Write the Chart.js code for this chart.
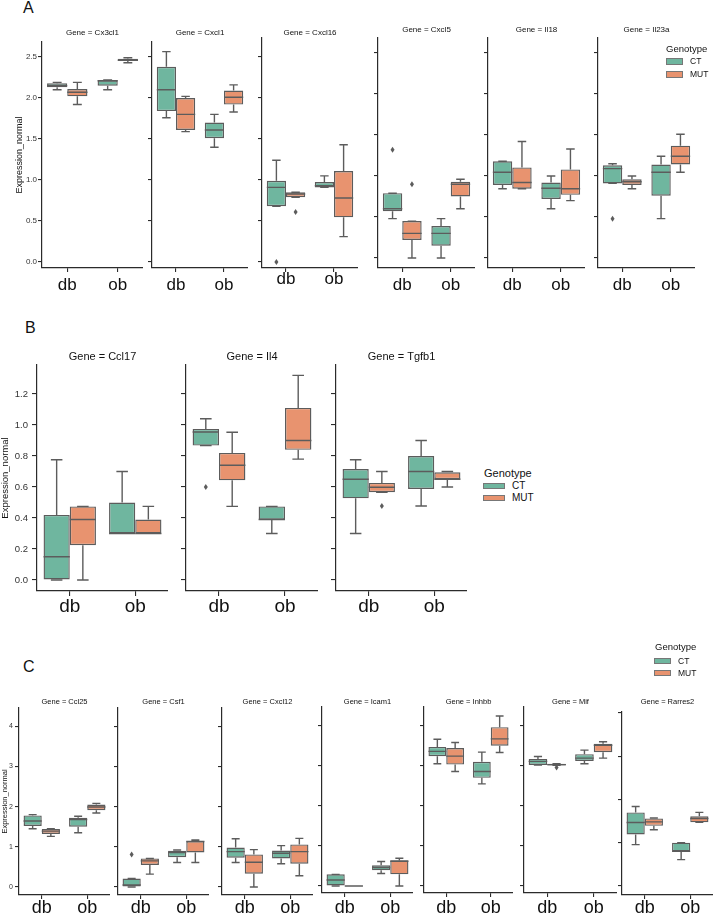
<!DOCTYPE html>
<html>
<head>
<meta charset="utf-8">
<script src="https://cdn.jsdelivr.net/npm/chart.js@4.4.1/dist/chart.umd.min.js"></script>
<style>
  body { margin: 0; background: #fff; width: 713px; height: 918px; position: relative; overflow: hidden;
         font-family: "Liberation Sans", Arial, sans-serif; color: #111; }
  canvas { position: absolute; }
  .letter { position: absolute; font-size: 16px; line-height: 1; }
  .leg { position: absolute; line-height: 1; white-space: nowrap; }
  .patch { position: absolute; box-sizing: border-box; border: 1px solid #777; }
</style>
</head>
<body>
<div class="letter" style="left:23px;top:0px">A</div>
<div class="letter" style="left:25px;top:320px">B</div>
<div class="letter" style="left:23px;top:659px">C</div>

<script>
const categories = ['db', 'ob'];
const genotypes = ['CT', 'MUT'];

// box stats per gene, [db, ob], each [low whisker, q1, median, q3, high whisker]
const genesA = ['Cx3cl1', 'Cxcl1', 'Cxcl16', 'Cxcl5', 'Il18', 'Il23a'];
const ticksA = [0, 0.5, 1, 1.5, 2, 2.5];
const ctA = [
  [[2.10, 2.13, 2.15, 2.18, 2.19], [2.10, 2.15, 2.21, 2.215, 2.22]],
  [[1.76, 1.84, 2.10, 2.38, 2.565], [1.40, 1.51, 1.61, 1.70, 1.80]],
  [[0.68, 0.68, 0.91, 0.99, 1.24], [0.91, 0.91, 0.93, 0.975, 1.05]],
  [[0.48, 0.57, 0.60, 0.79, 0.79], [0.0, 0.15, 0.30, 0.39, 0.48]],
  [[0.845, 0.89, 1.045, 1.18, 1.18], [0.60, 0.72, 0.85, 0.92, 1.00]],
  [[0.91, 0.91, 1.09, 1.13, 1.15], [0.48, 0.76, 1.045, 1.14, 1.24]]
];
const mutA = [
  [[1.92, 2.02, 2.07, 2.11, 2.19], [2.43, 2.45, 2.46, 2.48, 2.49]],
  [[1.59, 1.61, 1.80, 2.00, 2.02], [1.83, 1.92, 2.01, 2.09, 2.16]],
  [[0.79, 0.79, 0.83, 0.85, 0.85], [0.31, 0.545, 0.78, 1.11, 1.43]],
  [[0.0, 0.22, 0.30, 0.45, 0.45], [0.60, 0.75, 0.90, 0.93, 0.96]],
  [[0.845, 0.845, 0.92, 1.105, 1.42], [0.70, 0.77, 0.845, 1.08, 1.33]],
  [[0.845, 0.89, 0.93, 0.96, 1.00], [1.045, 1.14, 1.24, 1.37, 1.51]]
];
const ctOutA = [[[], []], [[], []], [[0.0], []], [[1.32], []], [[], []], [[0.48], []]];
const mutOutA = [[[], []], [[], []], [[0.61], []], [[0.90], []], [[], []], [[], []]];

const genesB = ['Ccl17', 'Il4', 'Tgfb1'];
const ticksB = [0, 0.2, 0.4, 0.6, 0.8, 1.0, 1.2];
const ctB = [
  [[0.0, 0.0, 0.15, 0.42, 0.776], [0.30, 0.30, 0.30, 0.50, 0.70]],
  [[0.867, 0.867, 0.955, 0.975, 1.04], [0.30, 0.39, 0.39, 0.475, 0.475]],
  [[0.30, 0.527, 0.65, 0.716, 0.776], [0.477, 0.587, 0.70, 0.80, 0.90]]
];
const mutB = [
  [[0.0, 0.225, 0.39, 0.475, 0.475], [0.30, 0.30, 0.30, 0.39, 0.475]],
  [[0.475, 0.643, 0.74, 0.82, 0.953], [0.78, 0.84, 0.90, 1.11, 1.32]],
  [[0.566, 0.566, 0.598, 0.626, 0.70], [0.60, 0.65, 0.65, 0.695, 0.70]]
];
const ctOutB = [[[], []], [[0.60], []], [[], []]];
const mutOutB = [[[], []], [[], []], [[0.477], []]];

const genesC = ['Ccl25', 'Csf1', 'Cxcl12', 'Icam1', 'Inhbb', 'Mif', 'Rarres2'];
const ticksC = [0, 1, 2, 3, 4];
const ctC = [
  [[1.45, 1.52, 1.64, 1.78, 1.80], [1.35, 1.50, 1.68, 1.72, 1.76]],
  [[0.0, 0.0, 0.05, 0.21, 0.21], [0.61, 0.74, 0.86, 0.90, 0.92]],
  [[0.61, 0.73, 0.88, 0.98, 1.20], [0.58, 0.71, 0.84, 0.905, 1.03]],
  [[0.0, 0.0, 0.15, 0.29, 0.29], [0.31, 0.39, 0.46, 0.515, 0.61]],
  [[3.04, 3.23, 3.35, 3.46, 3.65], [2.54, 2.69, 2.85, 3.09, 3.33]],
  [[3.01, 3.01, 3.10, 3.16, 3.22], [3.04, 3.11, 3.18, 3.28, 3.38]],
  [[0.955, 1.19, 1.465, 1.70, 1.835], [0.61, 0.80, 0.80, 1.00, 1.00]]
];
const mutC = [
  [[1.26, 1.32, 1.39, 1.44, 1.45], [1.84, 1.91, 1.99, 2.05, 2.08]],
  [[0.32, 0.55, 0.65, 0.71, 0.71], [0.61, 0.86, 1.13, 1.14, 1.17]],
  [[0.0, 0.33, 0.615, 0.81, 0.93], [0.28, 0.58, 0.88, 1.06, 1.21]],
  [[0, 0, 0, 0, 0], [0.0, 0.29, 0.615, 0.64, 0.69]],
  [[2.85, 3.02, 3.23, 3.43, 3.57], [3.32, 3.49, 3.66, 3.95, 4.23]],
  [[3.00, 3.00, 3.02, 3.04, 3.04], [3.18, 3.33, 3.50, 3.54, 3.59]],
  [[1.30, 1.39, 1.48, 1.56, 1.57], [1.47, 1.47, 1.56, 1.61, 1.70]]
];
const ctOutC = [[[], []], [[0.81], []], [[], []], [[], []], [[], []], [[], []], [[], []]];
const mutOutC = [[[], []], [[], []], [[], []], [[], []], [[], []], [[2.95], []], [[], []]];

const CT_COLOR = '#6fb69f';
const MUT_COLOR = '#e8936f';
const EDGE = '#5c5c5c';
const AXIS = '#2b2b2b';
const FONT = '"Liberation Sans", Arial, sans-serif';

// facet placement on the page (axis left/right, axis top, x-axis line, pixel of 0, px per unit)
const layoutA = [
  { left: 42, right: 143, top: 42, bottom: 268, zero: 262, ppu: 82, titleY: 33, xPad: 3 },
  { left: 152, right: 248, top: 42, bottom: 268, zero: 262, ppu: 82, titleY: 33, xPad: 3 },
  { left: 262, right: 358, top: 38, bottom: 268, zero: 262, ppu: 82, titleY: 33, xPad: -3 },
  { left: 378, right: 475, top: 38, bottom: 268, zero: 258, ppu: 82, titleY: 30, xPad: 3 },
  { left: 488, right: 585, top: 38, bottom: 268, zero: 258, ppu: 82, titleY: 30, xPad: 3 },
  { left: 598, right: 695, top: 38, bottom: 268, zero: 258, ppu: 82, titleY: 30, xPad: 3 }
];
const layoutB = [
  { left: 37, right: 168, top: 365, bottom: 591, zero: 580, ppu: 155, titleY: 357, xPad: -1 },
  { left: 186, right: 318, top: 365, bottom: 591, zero: 580, ppu: 155, titleY: 357, xPad: -1 },
  { left: 336, right: 467, top: 365, bottom: 591, zero: 580, ppu: 155, titleY: 357, xPad: -1 }
];
const layoutC = [
  { left: 19, right: 110, top: 708, bottom: 895, zero: 887, ppu: 40.2, titleY: 702, xPad: -2 },
  { left: 118, right: 209, top: 708, bottom: 895, zero: 887, ppu: 40.2, titleY: 702, xPad: -2 },
  { left: 222, right: 313, top: 708, bottom: 895, zero: 887, ppu: 40.2, titleY: 702, xPad: -2 },
  { left: 322, right: 413, top: 707, bottom: 893, zero: 886, ppu: 40.2, titleY: 702, xPad: 0 },
  { left: 424, right: 513, top: 707, bottom: 893, zero: 886, ppu: 40.2, titleY: 702, xPad: 0 },
  { left: 524, right: 617, top: 707, bottom: 893, zero: 886, ppu: 40.2, titleY: 702, xPad: 0 },
  { left: 622, right: 713, top: 712, bottom: 895, zero: 886, ppu: 43.3, titleY: 702, xPad: -2 }
];

const styleA = { titleSize: 8, yTick: 8, yTitle: 9, yTitlePad: 14, tickLen: 4, yPad: 1, xFont: 17, fmt: v => v.toFixed(1) };
const styleB = { titleSize: 11, yTick: 9.5, yTitle: 9.5, yTitlePad: 0, tickLen: 5, yPad: 4, xFont: 19, fmt: v => v.toFixed(1) };
const styleC = { titleSize: 7.5, yTick: 7, yTitle: 7.5, yTitlePad: 0, tickLen: 4, yPad: 2, xFont: 18, fmt: v => String(v) };

const boxPlugin = {
  id: 'boxes',
  afterDatasetsDraw(chart) {
    const { ctx } = chart;
    const y = chart.scales.y;
    const py = v => y.getPixelForValue(v);
    ctx.save();
    ctx.strokeStyle = EDGE;
    ctx.fillStyle = EDGE;
    ctx.lineWidth = 1.4;
    chart.data.datasets.forEach((ds, i) => {
      chart.getDatasetMeta(i).data.forEach((bar, j) => {
        const s = ds.stats[j];
        const x = bar.x, hw = bar.width / 2, cw = bar.width * 0.22;
        ctx.beginPath();
        ctx.moveTo(x, py(s[1])); ctx.lineTo(x, py(s[0]));
        ctx.moveTo(x - cw, py(s[0])); ctx.lineTo(x + cw, py(s[0]));
        ctx.moveTo(x, py(s[3])); ctx.lineTo(x, py(s[4]));
        ctx.moveTo(x - cw, py(s[4])); ctx.lineTo(x + cw, py(s[4]));
        ctx.moveTo(x - hw, py(s[2])); ctx.lineTo(x + hw, py(s[2]));
        ctx.stroke();
        ds.outliers[j].forEach(v => {
          const oy = py(v);
          ctx.beginPath();
          ctx.moveTo(x, oy - 3); ctx.lineTo(x + 2, oy); ctx.lineTo(x, oy + 3); ctx.lineTo(x - 2, oy);
          ctx.closePath();
          ctx.fill();
        });
      });
    });
    ctx.restore();
  },
  afterDraw(chart, args, opts) {
    const { ctx, chartArea } = chart;
    ctx.save();
    ctx.font = opts.size + 'px ' + FONT;
    ctx.fillStyle = '#111';
    ctx.textAlign = 'center';
    ctx.textBaseline = 'middle';
    ctx.fillText(opts.text, (chartArea.left + chartArea.right) / 2, opts.y);
    ctx.restore();
  }
};

function makeFacet(gene, ct, mut, ctOut, mutOut, ticks, pos, st, first) {
  const yw = first ? pos.left : 8;
  const TS = 30, XH = 34;
  const cl = pos.left - yw, cTop = pos.top - TS;
  const w = pos.right - cl, h = pos.bottom - pos.top + TS + XH;
  const cv = document.createElement('canvas');
  cv.width = w; cv.height = h;
  cv.style.left = cl + 'px'; cv.style.top = cTop + 'px';
  cv.style.width = w + 'px'; cv.style.height = h + 'px';
  document.body.appendChild(cv);

  const yMax = (pos.zero - pos.top) / pos.ppu;
  const yMin = (pos.zero - pos.bottom) / pos.ppu;
  const grid = { display: true, drawOnChartArea: false, drawTicks: true, tickLength: st.tickLen, color: AXIS, lineWidth: 1.1 };

  new Chart(cv, {
    type: 'bar',
    data: {
      labels: categories,
      datasets: [
        { label: genotypes[0], data: ct.map(s => [s[1], s[3]]), stats: ct, outliers: ctOut, backgroundColor: CT_COLOR },
        { label: genotypes[1], data: mut.map(s => [s[1], s[3]]), stats: mut, outliers: mutOut, backgroundColor: MUT_COLOR }
      ]
    },
    options: {
      responsive: false,
      animation: false,
      devicePixelRatio: 1,
      layout: { padding: { top: TS, left: 0, right: 0, bottom: 0 } },
      datasets: { bar: { categoryPercentage: 0.8, barPercentage: 1, borderColor: EDGE, borderWidth: 1.4, borderSkipped: false } },
      plugins: {
        legend: { display: false },
        tooltip: { enabled: false },
        boxes: { text: 'Gene = ' + gene, y: pos.titleY - cTop, size: st.titleSize }
      },
      scales: {
        x: {
          offset: true,
          grid: Object.assign({}, grid, { offset: false }),
          border: { display: true, color: AXIS, width: 1.2 },
          ticks: { font: { size: st.xFont, family: FONT }, color: '#111', padding: pos.xPad, maxRotation: 0 },
          afterFit: s => { s.height = XH; }
        },
        y: {
          min: yMin,
          max: yMax,
          afterBuildTicks: s => { s.ticks = ticks.map(v => ({ value: v })); },
          grid: grid,
          border: { display: true, color: AXIS, width: 1.2 },
          ticks: { display: first, font: { size: st.yTick, family: FONT }, color: '#333', padding: st.yPad, callback: v => st.fmt(v) },
          title: { display: first, text: 'Expression_normal', font: { size: st.yTitle, family: FONT }, color: '#111', padding: { top: st.yTitlePad, bottom: 0 } },
          afterFit: s => { s.width = yw; }
        }
      }
    },
    plugins: [boxPlugin]
  });
}

function makePanel(genes, ct, mut, ctOut, mutOut, ticks, layout, st) {
  genes.forEach((g, i) => makeFacet(g, ct[i], mut[i], ctOut[i], mutOut[i], ticks, layout[i], st, i === 0));
}

makePanel(genesA, ctA, mutA, ctOutA, mutOutA, ticksA, layoutA, styleA);
makePanel(genesB, ctB, mutB, ctOutB, mutOutB, ticksB, layoutB, styleB);
makePanel(genesC, ctC, mutC, ctOutC, mutOutC, ticksC, layoutC, styleC);

// legends
function makeLegend(L) {
  const t = document.createElement('div');
  t.className = 'leg';
  t.textContent = 'Genotype';
  t.style.cssText = `left:${L.titleX}px;top:${L.titleY - L.titleSize / 2}px;font-size:${L.titleSize}px`;
  document.body.appendChild(t);
  [CT_COLOR, MUT_COLOR].forEach((c, i) => {
    const p = document.createElement('div');
    p.className = 'patch';
    p.style.cssText = `left:${L.px}px;top:${L.rows[i]}px;width:${L.pw}px;height:${L.ph}px;background:${c}`;
    document.body.appendChild(p);
    const tx = document.createElement('div');
    tx.className = 'leg';
    tx.textContent = genotypes[i];
    tx.style.cssText = `left:${L.tx}px;top:${L.rows[i] + L.ph / 2 - L.size / 2}px;font-size:${L.size}px`;
    document.body.appendChild(tx);
  });
}
makeLegend({ titleX: 666, titleY: 49, titleSize: 9.5, px: 666, pw: 17, ph: 7, rows: [58, 71], tx: 690, size: 8.5 });
makeLegend({ titleX: 484, titleY: 473, titleSize: 11, px: 483, pw: 22, ph: 6, rows: [483, 495], tx: 512, size: 10 });
makeLegend({ titleX: 655, titleY: 647, titleSize: 9.5, px: 654, pw: 17, ph: 6, rows: [658, 670], tx: 678, size: 8.5 });
</script>
</body>
</html>
